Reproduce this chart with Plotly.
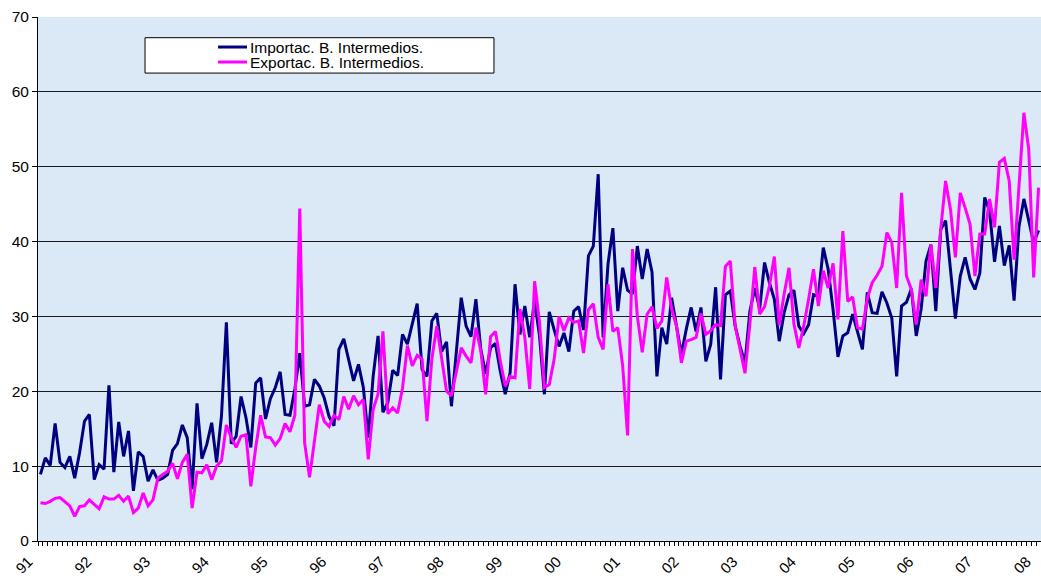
import plotly.graph_objects as go

years = ["91", "92", "93", "94", "95", "96", "97", "98", "99", "00",
         "01", "02", "03", "04", "05", "06", "07", "08"]

series_names = ["Importac. B. Intermedios.", "Exportac. B. Intermedios."]
series_colors = ["#000080", "#FF00FF"]

importaciones = [
    8.9, 11.1, 10.1, 15.7, 10.5, 9.8, 11.3, 8.4, 11.8, 16.0, 16.9, 8.2,
    10.2, 9.6, 20.8, 9.2, 15.9, 11.3, 14.7, 6.7, 11.9, 11.3, 8.0, 9.5,
    8.1, 8.4, 8.9, 12.1, 13.0, 15.5, 13.8, 6.9, 18.4, 11.0, 12.9, 15.8,
    10.5, 16.7, 29.2, 13.0, 14.0, 19.3, 16.5, 12.5, 21.1, 21.8, 16.3, 19.0,
    20.5, 22.6, 16.9, 16.8, 20.3, 25.1, 18.0, 18.2, 21.6, 20.7, 19.1, 16.6,
    15.4, 25.6, 27.0, 24.3, 21.4, 23.6, 20.5, 13.8, 22.0, 27.4, 17.2, 18.5,
    22.8, 22.1, 27.6, 26.3, 29.0, 31.7, 22.9, 22.0, 29.4, 30.4, 25.3, 26.6,
    18.0, 24.8, 32.5, 28.7, 27.3, 32.3, 25.6, 22.3, 25.8, 26.4, 22.6, 19.6,
    22.5, 34.3, 27.6, 31.4, 27.2, 32.1, 27.4, 19.6, 30.6, 28.2, 26.0, 27.8,
    25.3, 30.7, 31.3, 28.2, 38.1, 39.4, 49.0, 27.2, 37.0, 41.8, 30.7, 36.5,
    33.5, 33.0, 39.4, 35.0, 39.0, 35.9, 22.0, 28.5, 26.3, 32.5, 28.5, 24.9,
    28.3, 31.2, 28.0, 31.2, 24.0, 26.3, 33.9, 21.6, 32.9, 33.4, 28.7, 26.0,
    23.8, 30.7, 33.8, 31.0, 37.2, 34.5, 32.3, 26.7, 30.5, 32.9, 33.5, 28.7,
    27.7, 28.9, 32.9, 32.7, 39.2, 36.3, 30.9, 24.6, 27.4, 27.8, 30.3, 28.0,
    25.6, 33.2, 30.5, 30.4, 33.3, 31.8, 29.8, 22.0, 31.4, 31.9, 33.7, 27.4,
    31.0, 37.4, 39.6, 30.7, 41.6, 42.8, 36.0, 29.7, 35.4, 37.9, 35.0, 33.6,
    35.8, 45.9, 44.0, 37.3, 42.1, 36.8, 39.5, 32.1, 42.0, 45.7, 42.8, 39.8,
    41.5,
]

exportaciones = [
    5.1, 5.0, 5.3, 5.7, 5.8, 5.3, 4.7, 3.3, 4.6, 4.7, 5.5, 4.9,
    4.3, 5.9, 5.6, 5.6, 6.1, 5.3, 6.0, 3.8, 4.4, 6.4, 4.7, 5.5,
    8.4, 8.9, 9.3, 10.4, 8.3, 10.5, 11.6, 4.4, 9.2, 9.1, 10.2, 8.2,
    10.0, 10.7, 15.5, 13.8, 12.5, 14.0, 14.2, 7.3, 12.5, 16.8, 13.9, 13.8,
    12.8, 13.7, 15.7, 14.6, 16.8, 44.4, 13.1, 8.5, 13.1, 18.2, 16.0, 15.3,
    16.8, 16.2, 19.3, 17.6, 19.4, 18.2, 18.9, 10.9, 17.6, 19.6, 28.0, 17.0,
    17.8, 17.1, 20.4, 26.1, 23.4, 24.8, 24.3, 16.0, 24.3, 28.7, 24.4, 20.0,
    19.4, 22.5, 25.8, 24.7, 23.8, 28.5, 25.4, 19.6, 27.3, 28.0, 24.0, 20.7,
    22.0, 21.8, 31.0, 27.2, 20.3, 34.7, 29.2, 20.5, 20.9, 24.3, 30.0, 28.1,
    29.8, 29.2, 29.4, 25.1, 30.9, 31.7, 27.2, 25.6, 34.3, 28.0, 28.5, 23.4,
    14.1, 39.0, 30.0, 25.2, 30.3, 31.3, 28.4, 29.4, 35.2, 31.0, 28.7, 23.8,
    26.7, 26.9, 27.2, 30.4, 27.6, 28.1, 28.9, 28.8, 36.7, 37.4, 28.7, 25.6,
    22.4, 29.0, 36.6, 30.3, 31.3, 34.1, 38.0, 28.8, 33.0, 36.5, 29.0, 25.8,
    28.7, 32.3, 36.3, 31.4, 36.1, 33.8, 37.1, 29.6, 41.4, 32.0, 32.6, 28.5,
    28.3, 32.4, 34.5, 35.5, 36.7, 41.2, 39.9, 33.8, 46.5, 35.4, 33.6, 28.9,
    34.9, 32.7, 39.6, 33.8, 41.6, 48.1, 44.3, 37.9, 46.5, 44.5, 42.3, 35.4,
    41.0, 41.0, 45.7, 41.9, 50.6, 51.1, 48.1, 37.6, 46.8, 57.2, 52.3, 35.2,
    47.2,
]

months = list(range(len(importaciones)))
year_pos = [12 * k for k in range(len(years))]

fig = go.Figure()
for name, color, vals in zip(series_names, series_colors,
                             [importaciones, exportaciones]):
    fig.add_trace(go.Scatter(x=months, y=vals, mode="lines", name=name,
                             line=dict(color=color, width=3),
                             showlegend=False))

# legend box drawn as in the original (wide framed box, tight rows)
shapes = [dict(type="rect", xref="paper", yref="paper",
               x0=0.1067, x1=0.4546, y0=0.893, y1=0.9605,
               fillcolor="white", line=dict(color="black", width=1),
               layer="above")]
annotations = []
row_y = [0.9427, 0.9141]
for name, color, yy in zip(series_names, series_colors, row_y):
    shapes.append(dict(type="line", xref="paper", yref="paper",
                       x0=0.1795, x1=0.2084, y0=yy, y1=yy,
                       line=dict(color=color, width=3), layer="above"))
    annotations.append(dict(text=name, xref="paper", yref="paper",
                            x=0.2090, y=yy, xanchor="left", yanchor="middle",
                            showarrow=False,
                            font=dict(size=15.5, color="black")))

fig.update_layout(
    width=1041, height=576,
    margin=dict(l=38, r=0, t=17, b=35, autoexpand=False),
    paper_bgcolor="white",
    plot_bgcolor="#dbe8f6",
    font=dict(family="Liberation Sans, Arial, sans-serif", color="black", size=15),
    showlegend=False,
    shapes=shapes,
    annotations=annotations,
)

fig.update_xaxes(
    range=[-0.5, 204.5], automargin=False,
    tickmode="array", tickvals=year_pos, ticktext=years,
    tickangle=-45, ticks="", showgrid=False, zeroline=False,
    ticklabelshift=-12, ticklabelstandoff=5,
    showline=True, linecolor="black", linewidth=1,
    tickfont=dict(size=15),
    minor=dict(ticks="outside", ticklen=4, tickcolor="black",
               tick0=-0.5, dtick=1, showgrid=False),
)
fig.update_yaxes(
    range=[0, 70], dtick=10, tick0=0, automargin=False,
    ticks="outside", ticklen=5, tickcolor="black",
    showline=True, linecolor="black", linewidth=1,
    showgrid=True, gridcolor="#1a1a1a", gridwidth=1,
    zeroline=False, tickfont=dict(size=15.5),
)

fig.write_html(
    "out.html",
    config={"displayModeBar": False},
    post_script="document.body.style.margin='0';"
                "document.body.style.overflow='hidden';",
)
